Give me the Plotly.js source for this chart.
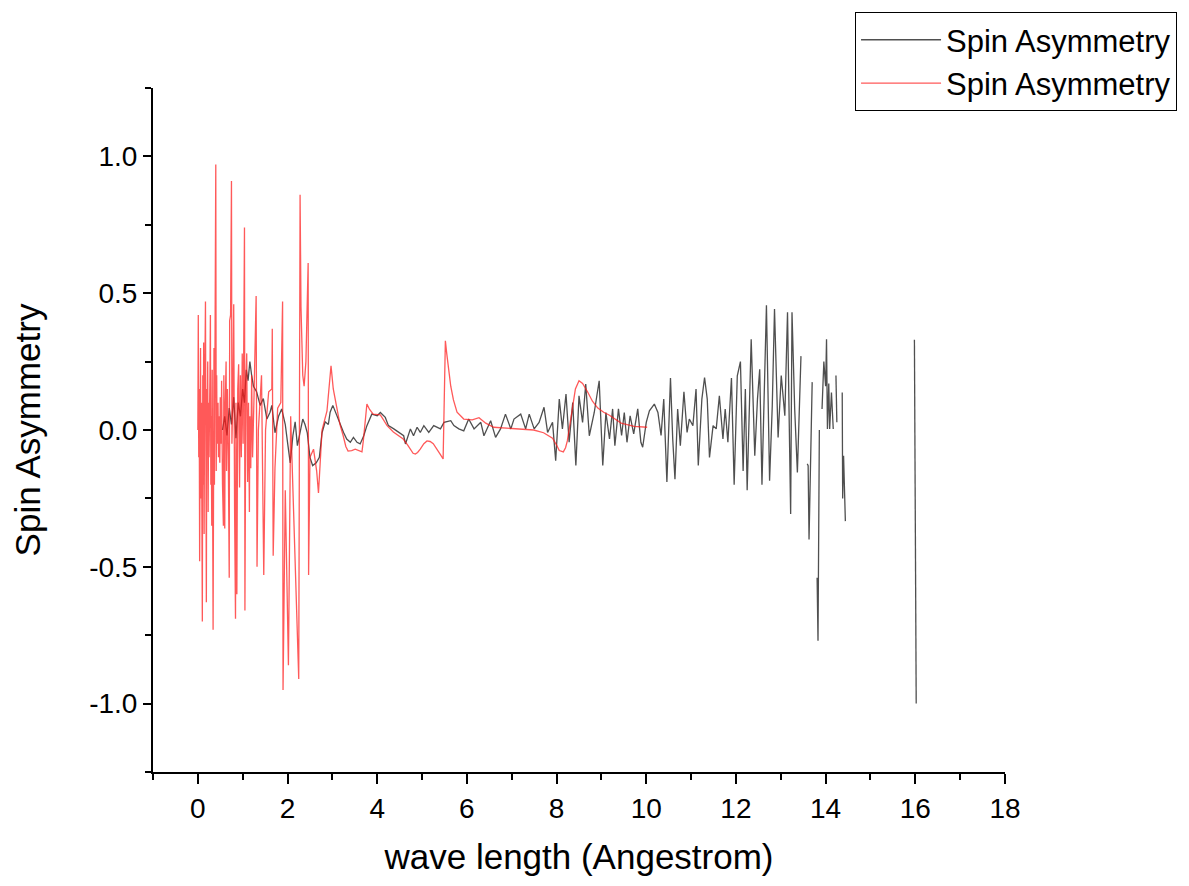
<!DOCTYPE html>
<html>
<head>
<meta charset="utf-8">
<script src="https://cdn.plot.ly/plotly-3.0.1.min.js"></script>
<style>html,body{margin:0;padding:0;background:#fff;}</style>
</head>
<body>
<div id="chart" style="width:1189px;height:886px;"></div>
<script>
// ---- Data ----
const seriesNames = ['Spin Asymmetry', 'Spin Asymmetry'];

const blackX = [0.55,0.60,0.65,0.70,0.75,0.80,0.85,0.90,0.95,1.00,1.04,1.08,1.12,1.16,1.20,1.24,1.31,1.39,1.46,1.54,1.61,1.65,1.72,1.80,1.87,1.95,2.00,2.06,2.12,2.17,2.22,2.28,2.34,2.39,2.44,2.50,2.56,2.64,2.71,2.77,2.84,2.91,2.95,3.01,3.10,3.18,3.25,3.32,3.40,3.47,3.55,3.62,3.70,3.77,3.88,4.00,4.07,4.18,4.25,4.37,4.48,4.59,4.63,4.74,4.81,4.89,4.96,5.04,5.15,5.26,5.41,5.49,5.64,5.71,5.82,5.93,6.04,6.16,6.31,6.38,6.53,6.64,6.75,6.86,6.98,7.05,7.20,7.31,7.39,7.50,7.61,7.72,7.80,7.91,7.98,8.06,8.13,8.21,8.28,8.36,8.43,8.50,8.58,8.65,8.73,8.84,8.95,9.03,9.10,9.18,9.25,9.30,9.38,9.45,9.51,9.57,9.64,9.72,9.81,9.88,9.92,10.00,10.07,10.18,10.26,10.33,10.39,10.46,10.54,10.59,10.64,10.70,10.76,10.84,10.91,10.96,11.04,11.11,11.16,11.24,11.30,11.36,11.41,11.49,11.56,11.63,11.71,11.76,11.82,11.90,11.96,12.03,12.10,12.16,12.21,12.25,12.34,12.42,12.48,12.53,12.58,12.68,12.75,12.81,12.86,12.94,13.01,13.09,13.15,13.22,13.25,13.31,13.37,13.45,13.52,13.59,13.61,13.63,13.70,13.76,13.81,13.83,13.86,13.89,13.92,13.96,14.00,14.02,14.04,14.07,14.09,14.13,14.17,14.20,14.23,14.25,14.30,14.37,14.38,14.40,14.44,15.00,15.98,16.02];
const blackY = [0.00,0.05,-0.02,0.08,0.02,0.12,-0.03,0.10,0.05,0.15,0.10,0.22,0.18,0.25,0.20,0.16,0.14,0.09,0.115,0.04,0.065,0.09,-0.01,0.05,0.077,0.02,-0.045,-0.12,-0.02,0.03,-0.057,-0.01,0.04,0.02,-0.01,-0.10,-0.13,-0.12,-0.10,-0.01,0.03,0.02,0.065,0.09,0.052,0.022,-0.009,-0.033,-0.045,-0.027,-0.045,-0.051,-0.021,0.016,0.058,0.052,0.064,0.046,0.016,0.004,-0.009,-0.021,-0.051,0.004,-0.021,0.01,-0.009,0.016,-0.009,0.016,0.004,0.028,0.034,0.016,0.004,-0.003,0.04,0.004,0.028,-0.021,0.034,-0.027,0.004,0.058,0.004,0.04,0.058,0.004,0.058,0.004,0.028,0.083,-0.009,0.028,-0.112,0.113,0.004,0.131,-0.045,0.10,-0.13,0.125,0.028,0.168,-0.021,0.064,0.18,-0.13,0.064,-0.033,0.077,-0.057,0.077,-0.02,0.064,-0.045,0.052,-0.014,0.077,-0.045,-0.063,0.028,0.07,0.095,0.064,-0.02,0.113,-0.19,0.19,-0.033,-0.18,0.077,-0.057,0.14,-0.009,0.04,0.016,0.15,-0.13,0.113,0.192,0.113,-0.10,0.016,0.004,0.125,-0.033,0.077,-0.045,0.19,-0.20,0.198,0.25,-0.15,0.15,-0.22,0.332,-0.094,0.113,0.222,-0.20,0.456,-0.185,0.089,0.442,-0.027,0.199,0.052,0.43,-0.307,0.43,0.077,-0.155,0.27,null,-0.124,-0.13,-0.40,0.175,null,-0.54,-0.77,0.0,null,0.077,0.25,0.16,0.332,0.004,0.17,0.004,0.137,0.004,null,0.199,0.028,null,0.137,-0.25,-0.094,-0.333,null,0.33,-1.0];

const redX = [0.00,0.01,0.02,0.03,0.04,0.05,0.06,0.07,0.08,0.10,0.11,0.12,0.13,0.14,0.15,0.17,0.18,0.19,0.20,0.21,0.22,0.23,0.24,0.25,0.27,0.28,0.29,0.30,0.31,0.32,0.34,0.35,0.36,0.37,0.38,0.40,0.41,0.42,0.43,0.45,0.46,0.47,0.49,0.50,0.52,0.53,0.55,0.57,0.58,0.60,0.61,0.63,0.64,0.66,0.68,0.70,0.71,0.73,0.75,0.76,0.78,0.80,0.82,0.84,0.85,0.87,0.89,0.91,0.93,0.95,0.97,0.99,1.01,1.04,1.05,1.07,1.09,1.11,1.13,1.15,1.16,1.18,1.20,1.22,1.25,1.30,1.32,1.35,1.42,1.47,1.51,1.58,1.65,1.66,1.68,1.72,1.78,1.85,1.89,1.90,1.95,2.02,2.07,2.25,2.28,2.30,2.34,2.37,2.41,2.46,2.47,2.50,2.58,2.65,2.69,2.77,2.88,2.94,2.97,3.02,3.10,3.17,3.24,3.30,3.35,3.43,3.51,3.58,3.66,3.69,3.71,3.74,3.77,3.83,3.91,4.07,4.22,4.36,4.48,4.58,4.68,4.74,4.80,4.85,4.90,4.96,5.04,5.11,5.18,5.25,5.33,5.41,5.47,5.52,5.55,5.60,5.64,5.70,5.78,5.93,6.12,6.27,6.42,6.60,7.04,7.49,7.71,7.91,8.00,8.06,8.15,8.20,8.24,8.30,8.36,8.42,8.50,8.58,8.69,8.80,8.92,9.05,9.17,9.44,9.73,10.02];
const redY = [0.00,0.42,-0.10,0.15,-0.48,0.27,0.30,-0.25,0.10,-0.70,0.20,-0.20,0.32,-0.38,0.08,0.47,-0.15,-0.63,0.15,-0.05,0.25,-0.30,0.10,-0.10,0.20,0.42,-0.20,0.05,-0.35,0.22,-0.73,0.10,0.30,-0.20,0.15,0.97,-0.15,0.20,-0.05,0.10,-0.10,0.05,-0.12,0.12,-0.05,0.18,-0.20,-0.35,0.20,-0.36,0.08,0.25,-0.15,0.15,-0.10,-0.54,0.40,0.42,0.91,-0.05,0.12,0.46,-0.30,-0.69,0.10,-0.60,0.15,0.24,-0.21,0.20,-0.10,0.28,-0.05,0.74,-0.66,0.15,0.28,-0.19,0.10,-0.30,0.05,-0.14,0.20,-0.10,0.10,0.49,-0.50,0.00,0.20,-0.53,0.00,0.14,0.15,0.37,-0.46,-0.14,0.08,0.10,0.47,-0.95,-0.22,-0.86,0.05,-0.91,0.86,0.45,0.20,0.16,0.25,0.61,-0.53,-0.10,-0.07,-0.15,-0.23,0.00,0.07,0.18,0.235,0.15,0.077,0.02,-0.02,-0.06,-0.077,-0.075,-0.07,-0.075,-0.08,-0.04,0.00,0.06,0.095,0.075,0.058,0.055,0.016,-0.007,-0.02,-0.033,-0.055,-0.07,-0.085,-0.088,-0.082,-0.07,-0.05,-0.04,-0.042,-0.05,-0.068,-0.09,-0.106,0.326,0.28,0.21,0.16,0.11,0.065,0.04,0.037,0.045,0.025,0.01,0.005,0.0,-0.01,-0.03,-0.055,-0.075,-0.08,-0.065,-0.04,0.02,0.09,0.15,0.18,0.17,0.14,0.105,0.08,0.065,0.055,0.025,0.013,0.01];

const xTickVals = [0,2,4,6,8,10,12,14,16,18];
const xTickText = ['0','2','4','6','8','10','12','14','16','18'];
const yTickVals = [-1,-0.5,0,0.5,1];
const yTickText = ['-1.0','-0.5','0.0','0.5','1.0'];

const FONT = 'Liberation Sans, Arial, Helvetica, sans-serif';

const traces = [
  {x: blackX, y: blackY, name: seriesNames[0], type: 'scatter', mode: 'lines',
   line: {color: 'rgba(35,35,35,0.8)', width: 1.3}, connectgaps: false, legendgroup: 'a'},
  {x: redX, y: redY, name: seriesNames[1], type: 'scatter', mode: 'lines',
   line: {color: 'rgba(255,25,25,0.72)', width: 1.3}, connectgaps: false, legendgroup: 'b'}
];

const axisCommon = {
  showline: true, linewidth: 2, linecolor: 'black', mirror: false,
  showgrid: false, zeroline: false, ticks: 'outside', tickwidth: 2, tickcolor: 'black',
  tickfont: {family: FONT, size: 28, color: 'black'}
};

const layout = {
  width: 1189, height: 886,
  margin: {l: 153, r: 184, t: 88, b: 114, autoexpand: false},
  paper_bgcolor: 'white', plot_bgcolor: 'white',
  font: {family: FONT, color: 'black'},
  showlegend: true,
  xaxis: Object.assign({}, axisCommon, {
    range: [-1, 18], tickmode: 'array', tickvals: xTickVals, ticktext: xTickText, ticklen: 10,
    minor: {tickmode: 'linear', tick0: 1, dtick: 2, ticks: 'outside', ticklen: 6, tickwidth: 2, tickcolor: 'black', showgrid: false},
    title: {text: 'wave length (Angestrom)', font: {family: FONT, size: 35, color: 'black'}, standoff: 22}
  }),
  yaxis: Object.assign({}, axisCommon, {
    range: [-1.25, 1.25], tickmode: 'array', tickvals: yTickVals, ticktext: yTickText, ticklen: 8,
    minor: {tickmode: 'linear', tick0: 0.25, dtick: 0.5, ticks: 'outside', ticklen: 6, tickwidth: 2, tickcolor: 'black', showgrid: false},
    title: {text: 'Spin Asymmetry', font: {family: FONT, size: 35, color: 'black'}, standoff: 38}
  }),
  legend: {
    x: 0.824, xanchor: 'left', y: 1.111, yanchor: 'top',
    bgcolor: 'white', bordercolor: 'black', borderwidth: 1,
    font: {family: FONT, size: 31, color: 'black'},
    itemwidth: 80, tracegroupgap: 0, traceorder: 'grouped'
  }
};

Plotly.newPlot('chart', traces, layout, {staticPlot: true, displayModeBar: false});
</script>
</body>
</html>
